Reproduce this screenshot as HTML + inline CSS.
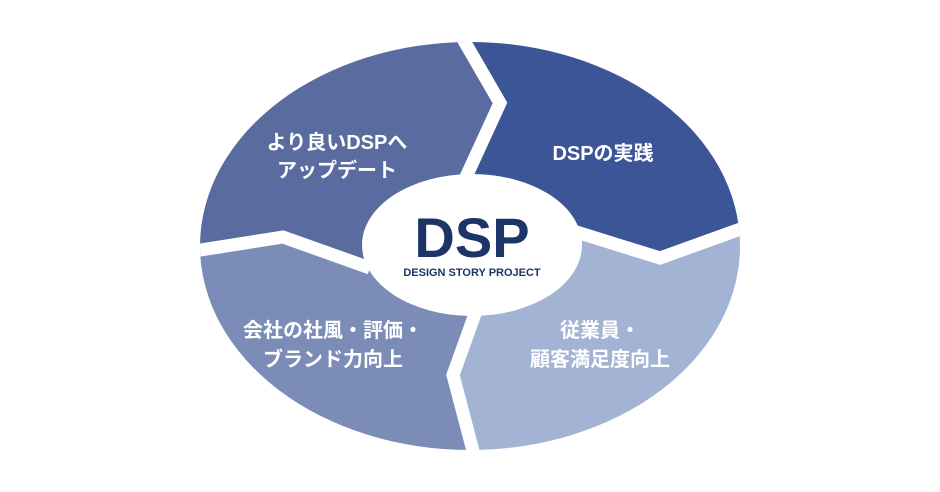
<!DOCTYPE html>
<html><head><meta charset="utf-8"><style>
html,body{margin:0;padding:0;background:#fff;}
svg{display:block}
text{font-family:"Liberation Sans","Noto Sans CJK JP",sans-serif;font-weight:bold;}
</style></head><body>
<svg width="940" height="492" viewBox="0 0 940 492" xmlns="http://www.w3.org/2000/svg">
<defs><clipPath id="c"><ellipse cx="470" cy="246" rx="270" ry="204"/></clipPath></defs>
<g clip-path="url(#c)">
<polygon fill="#5a6b9f" points="150,0 452,0 452,20 500,103 460,190 370,268 283,237 150,258"/>
<polygon fill="#3b5597" points="452,0 800,0 800,222 760,222 660,258 570,230 460,190 500,103 452,20"/>
<polygon fill="#a3b3d3" points="570,230 660,258 760,222 800,222 800,500 478,500 478,470 453,375 480,300"/>
<polygon fill="#7b8db6" points="150,258 283,237 370,268 480,300 453,375 478,470 478,500 150,500"/>
<g fill="none" stroke="#fff" stroke-width="13" stroke-linejoin="miter">
<polyline points="452,0 452,20 500,103 460,190"/>
<polyline points="570,230 660,258 760,222"/>
<polyline points="480,300 453,375 478,470 478,500"/>
<polyline points="150,258 283,237 370,268"/>
</g>
</g>
<ellipse cx="472" cy="245" rx="110" ry="71" fill="#fff"/>
<text x="472" y="257" font-size="56" fill="#1d3566" text-anchor="middle">DSP</text>
<text x="472" y="276" font-size="11" fill="#1d3566" text-anchor="middle">DESIGN STORY PROJECT</text>
<g fill="#fff" font-size="20" text-anchor="middle">
<text x="337" y="149">より良いDSPへ</text>
<text x="337" y="177">アップデート</text>
<text x="603" y="160">DSPの実践</text>
<text x="333" y="337">会社の社風・評価・</text>
<text x="333" y="366">ブランド力向上</text>
<text x="600" y="337">従業員・</text>
<text x="600" y="366">顧客満足度向上</text>
</g>
</svg>
</body></html>
